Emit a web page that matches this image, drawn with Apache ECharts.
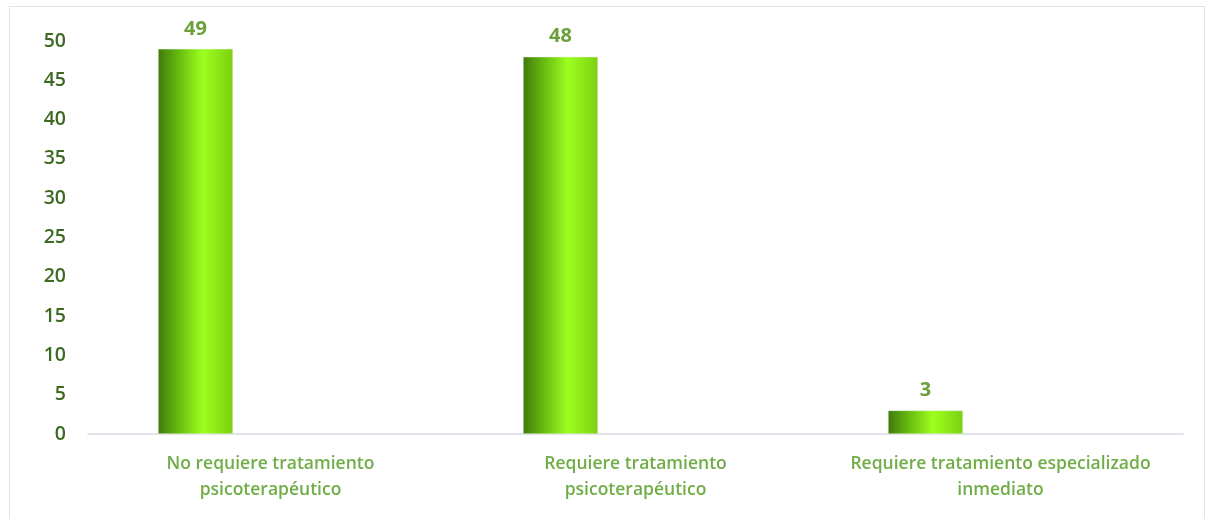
<!DOCTYPE html>
<html><head><meta charset="utf-8">
<script src="https://cdn.jsdelivr.net/npm/echarts@6/dist/echarts.min.js"></script>
<style>html,body{margin:0;padding:0;background:#fff}#c{width:1216px;height:519px;position:relative}
#frame{position:absolute;left:9px;top:6px;width:1196px;height:520px;border:1.5px solid #dde1ea;box-sizing:border-box;pointer-events:none}</style>
</head><body><div id="c"></div><div id="frame"></div>
<script>
const categories = ["No requiere tratamiento\npsicoterapéutico", "Requiere tratamiento\npsicoterapéutico", "Requiere tratamiento especializado\ninmediato"];
const values = [49, 48, 3];
const yTicks = {min: 0, max: 50, interval: 5};

const chart = echarts.init(document.getElementById('c'), null, {renderer: 'canvas'});
const grad = new echarts.graphic.LinearGradient(0, 0, 1, 0, [
  {offset: 0, color: '#3f7a0c'},
  {offset: 0.3, color: '#6cbf10'},
  {offset: 0.6, color: '#9cff1e'},
  {offset: 1, color: '#7ccf12'}
]);
chart.setOption({
  animation: false,
  grid: {left: 88, right: 33, top: 41, bottom: 85},
  xAxis: {
    type: 'category', data: categories,
    axisLine: {lineStyle: {color: '#d9dae3', width: 1.5}},
    axisTick: {show: false},
    axisLabel: {color: '#70ad47', fontSize: 17.5, fontWeight: 600, fontFamily: 'Open Sans', lineHeight: 26, margin: 17, interval: 0}
  },
  yAxis: {
    type: 'value', min: yTicks.min, max: yTicks.max, interval: yTicks.interval,
    splitLine: {show: false}, axisLine: {show: false}, axisTick: {show: false},
    axisLabel: {color: '#3d6a22', fontSize: 19.5, fontWeight: 600, fontFamily: 'Open Sans', margin: 22}
  },
  series: [{
    type: 'bar', data: values, barWidth: 75, barGap: '100%',
    itemStyle: {color: grad, borderColor: '#e8f5d8', borderWidth: 0.5},
    label: {show: true, position: 'top', color: '#6a9f3a', fontSize: 20, fontWeight: 'bold', fontFamily: 'Open Sans', distance: 10}
  }, {
    type: 'bar', data: values.map(() => null), barWidth: 75
  }]
});
</script></body></html>
